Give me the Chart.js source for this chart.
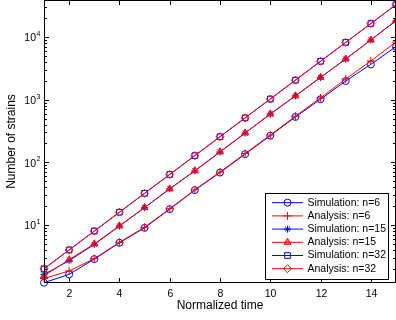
<!DOCTYPE html>
<html>
<head>
<meta charset="utf-8">
<script src="https://cdn.jsdelivr.net/npm/chart.js@4/dist/chart.umd.min.js"></script>
<style>
  body { margin: 0; background: #fff; }
  #wrap { width: 396px; height: 320px; }
</style>
</head>
<body>
<div id="wrap"><canvas id="myChart" width="396" height="320"></canvas></div>
<script>
// values
var time = [1, 2, 3, 4, 5, 6, 7, 8, 9, 10, 11, 12, 13, 14, 15]
var simN6 = [1.2, 1.63, 2.86, 5.2, 9.0, 17.9, 36, 68.5, 135, 266, 530, 1015, 1980, 3660, 7000]
var anaN6 = [1.4, 1.85, 2.9, 5.3, 9.2, 18.2, 36.5, 70, 138, 272, 545, 1070, 2130, 4150, 8300]
var simN15 = [1.62, 2.7, 4.9, 9.6, 18.9, 37.7, 73, 146, 293, 590, 1150, 2260, 4450, 8950, 18200]
var anaN15 = [1.55, 2.8, 5.0, 9.7, 19, 37.8, 73.5, 147, 294, 592, 1150, 2270, 4460, 8970, 18250]
var simN32 = [2, 4, 8, 16, 32, 64, 128, 256, 512, 1024, 2048, 4096, 8192, 16384, 32768]
var anaN32 = [2, 4, 8, 16, 32, 64, 128, 256, 512, 1024, 2048, 4096, 8192, 16384, 32768]
var seriesNames = ["Simulation: n=6", "Analysis: n=6", "Simulation: n=15", "Analysis: n=15", "Simulation: n=32", "Analysis: n=32"]
var xTicks = [2, 4, 6, 8, 10, 12, 14]
var yDecades = [1, 2, 3, 4]

var BLUE = "rgb(0,0,255)"
var RED = "rgb(255,0,0)"
var FONT = "'Liberation Sans', Arial, sans-serif"

function pts(vals) {
    return vals.map(function (v, i) { return { x: time[i], y: v } })
}

function ds(idx, vals, color, style, r, fill) {
    return {
        label: seriesNames[idx],
        data: pts(vals),
        order: 10 - idx,
        borderColor: color,
        backgroundColor: fill || "rgba(0,0,0,0)",
        borderWidth: 1,
        pointStyle: style,
        pointRadius: r,
        pointBorderColor: color,
        pointBackgroundColor: fill || "rgba(0,0,0,0)",
        pointBorderWidth: 1,
        fill: false,
        tension: 0,
        clip: false
    }
}

var datasets = [
    ds(0, simN6, BLUE, "circle", 3.5),
    ds(1, anaN6, RED, "cross", 4),
    ds(2, simN15, BLUE, "star", 3.5),
    ds(3, anaN15, RED, "triangle", 4, "rgba(255,0,0,0.55)"),
    ds(4, simN32, BLUE, "rect", 4),
    ds(5, anaN32, RED, "rectRot", 4)
]

var axesPlugin = {
    id: "matlabAxes",
    afterDatasetsDraw: function (chart) {
        var ctx = chart.ctx, a = chart.chartArea
        var xs = chart.scales.x, ys = chart.scales.y
        ctx.save()
        ctx.strokeStyle = "#000"
        ctx.lineWidth = 1
        ctx.strokeRect(a.left + 0.5, a.top + 0.5, a.right - a.left - 1, a.bottom - a.top - 1)

        // x ticks
        ctx.fillStyle = "#000"
        ctx.font = "10.5px " + FONT
        ctx.textAlign = "center"
        ctx.textBaseline = "middle"
        ctx.beginPath()
        xTicks.forEach(function (v) {
            var px = Math.round(xs.getPixelForValue(v)) + 0.5
            ctx.moveTo(px, a.bottom); ctx.lineTo(px, a.bottom - 5)
            ctx.moveTo(px, a.top); ctx.lineTo(px, a.top + 5)
            ctx.fillText(String(v), px, a.bottom + 11)
        })
        // y ticks, major and minor, on both sides
        for (var d = 0; d <= 4; d++) {
            for (var k = 1; k <= 9; k++) {
                var v = k * Math.pow(10, d)
                if (v < ys.min || v > ys.max) continue
                var py = Math.round(ys.getPixelForValue(v)) + 0.5
                var len = k === 1 ? 5 : 3
                ctx.moveTo(a.left, py); ctx.lineTo(a.left + len, py)
                ctx.moveTo(a.right, py); ctx.lineTo(a.right - len, py)
            }
        }
        ctx.stroke()

        yDecades.forEach(function (e) {
            var py = ys.getPixelForValue(Math.pow(10, e))
            ctx.font = "10.5px " + FONT
            ctx.textAlign = "right"
            ctx.fillText("10", 36, py + 1.5)
            ctx.font = "7px " + FONT
            ctx.textAlign = "left"
            ctx.fillText(String(e), 36.5, py - 3)
        })

        // axis titles
        ctx.font = "12px " + FONT
        ctx.textAlign = "center"
        ctx.fillText("Normalized time", 220, 306)
        ctx.translate(12, 141.5)
        ctx.rotate(-Math.PI / 2)
        ctx.fillText("Number of strains", 0, 0)
        ctx.restore()
    },
    afterDraw: function (chart) {
        var ctx = chart.ctx
        ctx.save()
        ctx.fillStyle = "#fff"
        ctx.fillRect(265, 193, 124, 87)
        ctx.strokeStyle = "#000"
        ctx.lineWidth = 1
        ctx.strokeRect(265.5, 193.5, 123, 86)
        ctx.font = "10.5px " + FONT
        ctx.textAlign = "left"
        ctx.textBaseline = "middle"
        datasets.forEach(function (d, i) {
            var y = 202.7 + i * 13.2
            ctx.strokeStyle = d.borderColor
            ctx.beginPath()
            ctx.moveTo(272, y); ctx.lineTo(303, y)
            ctx.stroke()
            ctx.fillStyle = d.pointBackgroundColor
            Chart.helpers.drawPoint(ctx, { pointStyle: d.pointStyle, radius: d.pointRadius, borderWidth: 1, rotation: 0 }, 287.5, y)
            ctx.fillStyle = "#000"
            ctx.fillText(d.label, 307.5, y)
        })
        ctx.restore()
    }
}

var chart = new Chart(document.getElementById("myChart").getContext("2d"), {
    type: "line",
    data: { datasets: datasets },
    options: {
        responsive: false,
        animation: false,
        devicePixelRatio: 1,
        layout: { autoPadding: false, padding: { left: 44, top: 0, right: 0, bottom: 37 } },
        plugins: { legend: { display: false }, tooltip: { enabled: false } },
        scales: {
            x: { type: "linear", min: 1, max: 15, display: false },
            y: { type: "logarithmic", min: 1.187, max: 38900, display: false }
        }
    },
    plugins: [axesPlugin]
})
</script>
</body>
</html>
